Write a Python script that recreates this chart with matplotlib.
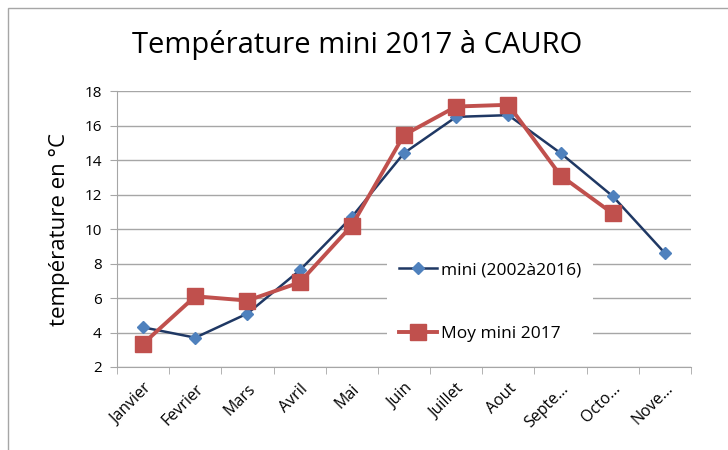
import matplotlib.pyplot as plt
from matplotlib.patches import Rectangle

# donnees
mois = ['Janvier', 'Fevrier', 'Mars', 'Avril', 'Mai', 'Juin', 'Juillet',
        'Aout', 'Septe...', 'Octo...', 'Nove...']
mini_2002_2016 = [4.3, 3.7, 5.1, 7.6, 10.7, 14.4, 16.5, 16.6, 14.4, 11.9, 8.6]
moy_mini_2017 = [3.35, 6.1, 5.85, 6.9, 10.2, 15.45, 17.1, 17.2, 13.1, 10.9]
yticks = [2, 4, 6, 8, 10, 12, 14, 16, 18]

plt.rcParams['font.family'] = ['Open Sans', 'DejaVu Sans']

fig = plt.figure(figsize=(7.28, 4.5), dpi=100)
ax = fig.add_axes([117 / 728, 1 - 367 / 450, 574 / 728, 276 / 450])

# cadre du graphique (coupe a droite et en bas)
fig.patches.append(Rectangle((8 / 728, -0.1), 1.2, 1 - 8 / 450 + 0.1,
                             transform=fig.transFigure, fill=False,
                             edgecolor='#a6a6a6', linewidth=1))

x = list(range(len(mois)))
ax.plot(x, mini_2002_2016, color='#1f3864', linewidth=1.8, marker='D',
        markersize=6, markerfacecolor='#4f81bd', markeredgecolor='#4f81bd',
        label='mini (2002à2016)', zorder=3)
ax.plot(x[:len(moy_mini_2017)], moy_mini_2017, color='#c0504d', linewidth=2.8,
        marker='s', markersize=11, markerfacecolor='#c0504d',
        markeredgecolor='#c0504d', label='Moy mini 2017', zorder=4)

ax.set_xlim(-0.5, len(mois) - 0.5)
ax.set_ylim(2, 18)
ax.set_yticks(yticks)
ax.set_xticks(x)
ax.set_xticklabels(mois, rotation=45, ha='right', rotation_mode='anchor')
ax.set_xticks([i - 0.5 for i in range(len(mois) + 1)], minor=True)
ax.tick_params(axis='x', which='major', length=0, pad=10, labelsize=11.5)
ax.tick_params(axis='x', which='minor', length=5, color='#a6a6a6')
ax.tick_params(axis='y', length=5, color='#a6a6a6', labelsize=11, pad=6)

ax.grid(axis='y', color='#a6a6a6', linewidth=1)
ax.set_axisbelow(True)
for s in ['top', 'right']:
    ax.spines[s].set_visible(False)
ax.spines['left'].set_color('#a6a6a6')
ax.spines['bottom'].set_color('#a6a6a6')

ax.set_ylabel('température en °C', fontsize=16, labelpad=10)
fig.text(357 / 728, 1 - 45 / 450, 'Température mini 2017 à CAURO',
         fontsize=21, ha='center', va='center')

leg = ax.legend(loc='upper left', bbox_to_anchor=(0.455, 0.455),
                frameon=True, fontsize=12.5, labelspacing=2.75,
                handlelength=2.2, handletextpad=0.2, borderpad=0.7)
leg.get_frame().set_facecolor('white')
leg.get_frame().set_edgecolor('none')
leg.get_frame().set_alpha(1)
leg.set_zorder(5)

fig.savefig('out.png', dpi=100)
